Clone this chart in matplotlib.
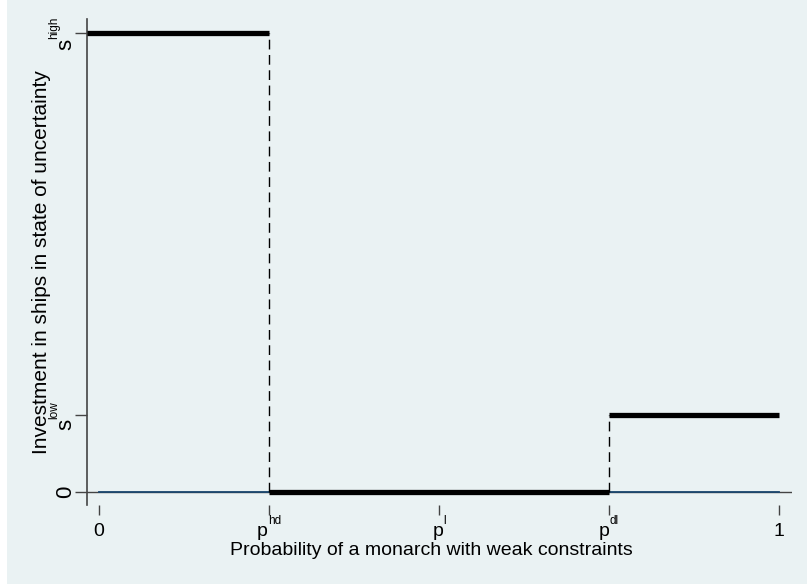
import matplotlib
matplotlib.use("Agg")
import matplotlib.pyplot as plt
from matplotlib.patches import Rectangle
from matplotlib.transforms import offset_copy

plt.rcParams['font.family'] = ['Liberation Sans', 'DejaVu Sans']

# Umbrales de probabilidad y niveles de inversión
p_hd, p_l, p_dl = 0.25, 0.5, 0.75
s_low, s_high = 1, 6

x_ticks = [0, p_hd, p_l, p_dl, 1]
x_base = ['0', 'p', 'p', 'p', '1']
x_sup = ['', 'hd', 'l', 'dl', '']
y_ticks = [0, s_low, s_high]
y_base = ['0', 's', 's']
y_sup = ['', 'low', 'high']

x_min, x_max = -0.0176, 1.019
y_min, y_max = -0.17, 6.183

# Tramos de la función de inversión
seg_x = [[x_min, p_hd], [p_hd, p_dl], [p_dl, 1]]
seg_y = [[s_high, s_high], [0, 0], [s_low, s_low]]

fondo = '#EAF2F3'
gris = '#444444'

fig = plt.figure(figsize=(8.07, 5.88), dpi=100)
fig.patch.set_facecolor('white')
fig.patches.append(Rectangle((7 / 807, 4 / 588), 1 - 7 / 807, 1 - 4 / 588,
                             transform=fig.transFigure, facecolor=fondo,
                             edgecolor='none', zorder=-10))

ax = fig.add_axes([87 / 807, 1 - 505 / 588, 705 / 807, 486 / 588])
ax.set_facecolor(fondo)

ax.axhline(0, color=gris, lw=1.0, zorder=1)
ax.plot([0, 1], [0, 0], color='#1a476f', lw=1.3, zorder=2)

ax.plot([p_hd, p_hd], [0, s_high], color='black', lw=1.0, ls=(0, (7, 4)), zorder=3)
ax.plot([p_dl, p_dl], [0, s_low], color='black', lw=1.0, ls=(0, (7, 4)), zorder=3)

for xs, ys in zip(seg_x, seg_y):
    ax.plot(xs, ys, color='black', lw=3.8, solid_capstyle='butt', zorder=4)

ax.set_xlim(x_min, x_max)
ax.set_ylim(y_min, y_max)

ax.set_xticks(x_ticks)
ax.set_xticklabels([])
ax.set_yticks(y_ticks)
ax.set_yticklabels([])

ax.tick_params(axis='x', direction='out', length=7, width=1.0, color=gris)
ax.tick_params(axis='y', direction='out', length=9, width=1.0, color=gris)

for lado in ['top', 'right', 'bottom']:
    ax.spines[lado].set_visible(False)
ax.spines['left'].set_color(gris)
ax.spines['left'].set_linewidth(1.2)

# Etiquetas con superíndice pequeño (base + índice elevado)
renderer = fig.canvas.get_renderer()


def ancho(texto, size):
    if not texto:
        return 0.0
    t = fig.text(0, 0, texto, fontsize=size)
    w = t.get_window_extent(renderer).width * 72 / fig.dpi
    t.remove()
    return w


tam_x, tam_y, tam_sup = 14, 16, 8.5

for x, base, sup in zip(x_ticks, x_base, x_sup):
    wb, ws = ancho(base, tam_x), ancho(sup, tam_sup)
    x0 = -(wb + ws) / 2
    tr = offset_copy(ax.get_xaxis_transform(), fig=fig, x=x0, y=-22.3, units='points')
    ax.text(x, 0, base, transform=tr, fontsize=tam_x, ha='left', va='baseline')
    if sup:
        tr = offset_copy(ax.get_xaxis_transform(), fig=fig, x=x0 + wb, y=-22.3 + 8.6,
                         units='points')
        ax.text(x, 0, sup, transform=tr, fontsize=tam_sup, ha='left', va='baseline')

for y, base, sup in zip(y_ticks, y_base, y_sup):
    wb, ws = ancho(base, tam_y), ancho(sup, tam_sup)
    y0 = -(wb + ws) / 2
    tr = offset_copy(ax.get_yaxis_transform(), fig=fig, x=-11.2, y=y0, units='points')
    ax.text(0, y, base, transform=tr, fontsize=tam_y, rotation=90,
            rotation_mode='anchor', ha='left', va='baseline')
    if sup:
        tr = offset_copy(ax.get_yaxis_transform(), fig=fig, x=-11.2 - 10, y=y0 + wb,
                         units='points')
        ax.text(0, y, sup, transform=tr, fontsize=tam_sup, rotation=90,
                rotation_mode='anchor', ha='left', va='baseline')

ax.set_xlabel('Probability of a monarch with weak constraints', fontsize=14)
ax.xaxis.label.set_va('baseline')
ax.xaxis.set_label_coords(0.489, -0.1029)
ax.set_ylabel('Investment in ships in state of uncertainty', fontsize=15)
ax.yaxis.label.set_va('baseline')
ax.yaxis.set_label_coords(-0.0567, 0.5)

fig.savefig('out.png', dpi=100, facecolor=fig.get_facecolor())
